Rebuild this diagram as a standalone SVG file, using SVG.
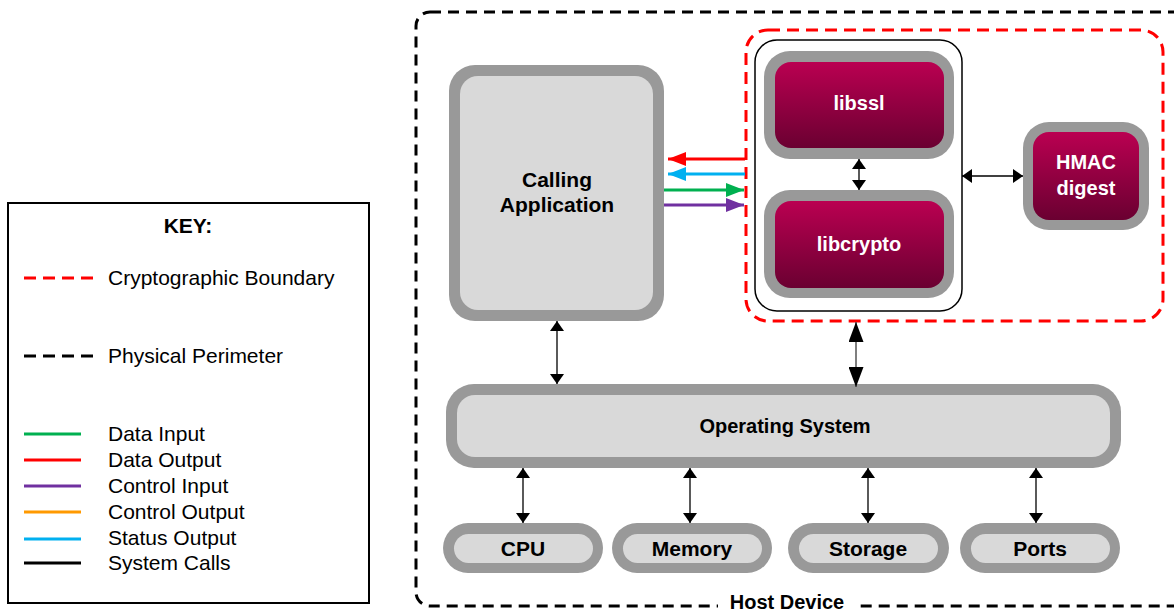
<svg xmlns="http://www.w3.org/2000/svg" width="1174" height="613" viewBox="0 0 1174 613">
<style>
text{font-family:"Liberation Sans",Arial,sans-serif;}
.b{font-weight:bold;font-size:21px;fill:#000;text-anchor:middle;}
.w{font-weight:bold;font-size:20px;fill:#fff;text-anchor:middle;}
.k{font-size:21px;fill:#000;}
.ring{fill:#999999;}
.gin{fill:#D9D9D9;}
.sys{stroke:#000;stroke-width:1.3;fill:none;marker-start:url(#ah);marker-end:url(#ah);}
.sysb{stroke:#555;stroke-width:1.5;fill:none;marker-start:url(#ahb);marker-end:url(#ahb);}
</style>
<defs>
<linearGradient id="mg" x1="0" y1="0" x2="0" y2="1">
<stop offset="0" stop-color="#BA0051"/>
<stop offset="1" stop-color="#6A0031"/>
</linearGradient>
<marker id="ah" viewBox="0 0 10 10" refX="10" refY="5" markerUnits="userSpaceOnUse" markerWidth="10" markerHeight="14" orient="auto-start-reverse" preserveAspectRatio="none"><path d="M0,0 L10,5 L0,10 z" fill="#000"/></marker>
<marker id="ahb" viewBox="0 0 10 10" refX="10" refY="5" markerUnits="userSpaceOnUse" markerWidth="20" markerHeight="15" orient="auto-start-reverse" preserveAspectRatio="none"><path d="M0,0 L10,5 L0,10 z" fill="#000"/></marker>
<marker id="ar" viewBox="0 0 10 10" refX="10" refY="5" markerUnits="userSpaceOnUse" markerWidth="18" markerHeight="14" orient="auto" preserveAspectRatio="none"><path d="M0,0 L10,5 L0,10 z" fill="#FF0000"/></marker>
<marker id="ab" viewBox="0 0 10 10" refX="10" refY="5" markerUnits="userSpaceOnUse" markerWidth="18" markerHeight="14" orient="auto" preserveAspectRatio="none"><path d="M0,0 L10,5 L0,10 z" fill="#00B0F0"/></marker>
<marker id="ag" viewBox="0 0 10 10" refX="10" refY="5" markerUnits="userSpaceOnUse" markerWidth="18" markerHeight="14" orient="auto" preserveAspectRatio="none"><path d="M0,0 L10,5 L0,10 z" fill="#00B050"/></marker>
<marker id="ap" viewBox="0 0 10 10" refX="10" refY="5" markerUnits="userSpaceOnUse" markerWidth="18" markerHeight="14" orient="auto" preserveAspectRatio="none"><path d="M0,0 L10,5 L0,10 z" fill="#7030A0"/></marker>
</defs>
<rect width="1174" height="613" fill="#fff"/>

<g id="legend">
<rect x="8" y="203" width="361" height="400" fill="#fff" stroke="#000" stroke-width="2"/>
<text x="188" y="233" class="b">KEY:</text>
<line x1="24" y1="278" x2="93" y2="278" stroke="#FF0000" stroke-width="3" stroke-dasharray="12,7"/>
<text x="108" y="285" class="k">Cryptographic Boundary</text>
<line x1="24" y1="356" x2="93" y2="356" stroke="#000" stroke-width="3" stroke-dasharray="12,7"/>
<text x="108" y="363" class="k">Physical Perimeter</text>
<line x1="24" y1="434" x2="81" y2="434" stroke="#00B050" stroke-width="3"/>
<text x="108" y="441" class="k">Data Input</text>
<line x1="24" y1="460" x2="81" y2="460" stroke="#FF0000" stroke-width="3"/>
<text x="108" y="467" class="k">Data Output</text>
<line x1="24" y1="486" x2="81" y2="486" stroke="#7030A0" stroke-width="3"/>
<text x="108" y="493" class="k">Control Input</text>
<line x1="24" y1="512" x2="81" y2="512" stroke="#FF9900" stroke-width="3"/>
<text x="108" y="519" class="k">Control Output</text>
<line x1="24" y1="539" x2="81" y2="539" stroke="#00B0F0" stroke-width="3"/>
<text x="108" y="545" class="k">Status Output</text>
<line x1="24" y1="563" x2="81" y2="563" stroke="#000" stroke-width="3"/>
<text x="108" y="570" class="k">System Calls</text>
</g>

<g id="host-device">
<rect x="416" y="12" width="790" height="594" rx="14" fill="none" stroke="#000" stroke-width="3" stroke-dasharray="11,7"/>
<rect x="718" y="592" width="138" height="21" fill="#fff"/>
<text x="787" y="609" class="b" style="font-size:20px">Host Device</text>
</g>

<g id="crypto-boundary">
<rect x="746" y="30" width="417" height="291" rx="22" fill="none" stroke="#FF0000" stroke-width="3" stroke-dasharray="12,7"/>
</g>

<g id="library-container">
<rect x="755" y="40" width="207" height="271" rx="22" fill="#fff" stroke="#000" stroke-width="1.5"/>
</g>

<g id="libssl">
<rect x="764" y="51" width="190" height="108" rx="26" class="ring"/>
<rect x="775" y="62" width="169" height="86" rx="16" fill="url(#mg)"/>
<text x="859" y="110" class="w">libssl</text>
</g>

<g id="libcrypto">
<rect x="764" y="190" width="190" height="108" rx="26" class="ring"/>
<rect x="775" y="201" width="169" height="87" rx="16" fill="url(#mg)"/>
<text x="859" y="251" class="w">libcrypto</text>
</g>

<g id="hmac">
<rect x="1023" y="122" width="126" height="108" rx="26" class="ring"/>
<rect x="1033" y="132" width="106" height="88" rx="16" fill="url(#mg)"/>
<text x="1086" y="169" class="w">HMAC</text>
<text x="1086" y="195" class="w">digest</text>
</g>

<g id="calling-app">
<rect x="449" y="65" width="215" height="256" rx="26" class="ring"/>
<rect x="460" y="76" width="193" height="234" rx="18" class="gin"/>
<text x="557" y="187" class="b">Calling</text>
<text x="557" y="212" class="b">Application</text>
</g>

<g id="os">
<rect x="446" y="384" width="675" height="84" rx="28" class="ring"/>
<rect x="457" y="395" width="653" height="62" rx="18" class="gin"/>
<text x="785" y="433" class="b" style="font-size:20px">Operating System</text>
</g>

<g id="cpu">
<rect x="443" y="523" width="160" height="50" rx="25" class="ring"/>
<rect x="454" y="534" width="139" height="29" rx="14.5" class="gin"/>
<text x="523" y="556" class="b">CPU</text>
</g>
<g id="memory">
<rect x="612" y="523" width="160" height="50" rx="25" class="ring"/>
<rect x="623" y="534" width="139" height="29" rx="14.5" class="gin"/>
<text x="692" y="556" class="b">Memory</text>
</g>
<g id="storage">
<rect x="788" y="523" width="161" height="50" rx="25" class="ring"/>
<rect x="799" y="534" width="139" height="29" rx="14.5" class="gin"/>
<text x="868" y="556" class="b">Storage</text>
</g>
<g id="ports">
<rect x="960" y="523" width="160" height="50" rx="25" class="ring"/>
<rect x="971" y="534" width="139" height="29" rx="14.5" class="gin"/>
<text x="1040" y="556" class="b">Ports</text>
</g>

<g id="connectors">
<line x1="745" y1="159" x2="668" y2="159" stroke="#FF0000" stroke-width="3" marker-end="url(#ar)"/>
<line x1="745" y1="174" x2="668" y2="174" stroke="#00B0F0" stroke-width="3" marker-end="url(#ab)"/>
<line x1="664" y1="190" x2="744" y2="190" stroke="#00B050" stroke-width="3" marker-end="url(#ag)"/>
<line x1="664" y1="205" x2="744" y2="205" stroke="#7030A0" stroke-width="3" marker-end="url(#ap)"/>
<line x1="859" y1="159" x2="859" y2="190" class="sys"/>
<line x1="962" y1="176" x2="1023" y2="176" class="sys"/>
<line x1="557" y1="321" x2="557" y2="384" class="sys"/>
<line x1="856" y1="322" x2="856" y2="387" class="sysb"/>
<line x1="523" y1="468" x2="523" y2="523" class="sys"/>
<line x1="690" y1="468" x2="690" y2="523" class="sys"/>
<line x1="868" y1="468" x2="868" y2="523" class="sys"/>
<line x1="1036" y1="468" x2="1036" y2="523" class="sys"/>
</g>
</svg>
